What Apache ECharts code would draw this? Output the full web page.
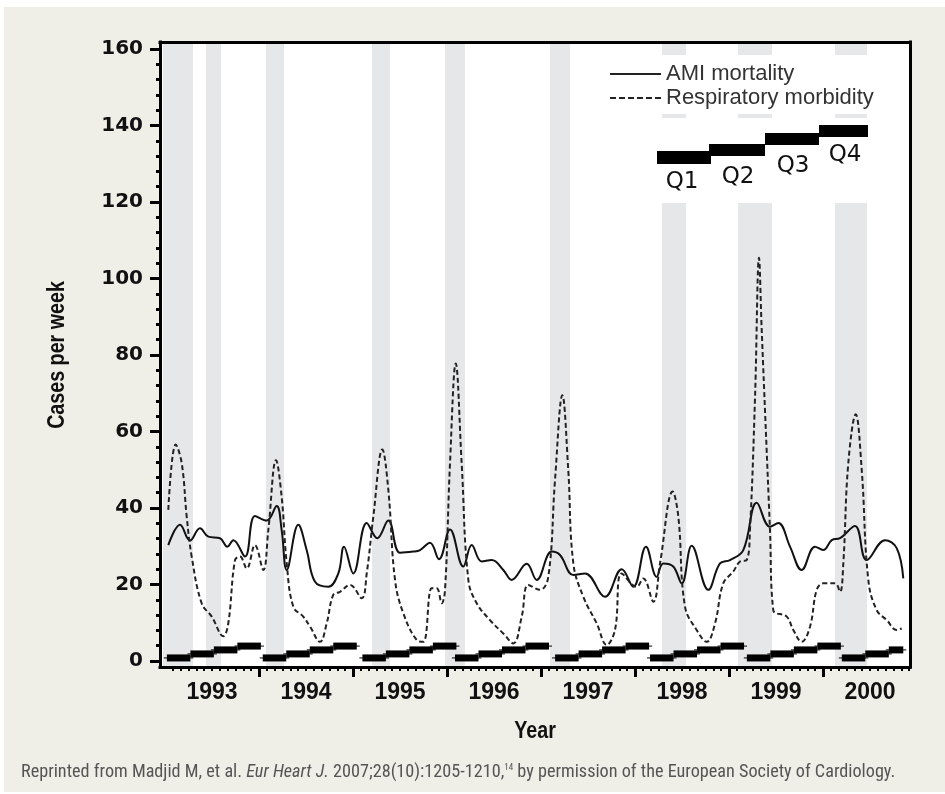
<!DOCTYPE html>
<html><head><meta charset="utf-8">
<script src="https://cdn.jsdelivr.net/npm/echarts@6/dist/echarts.min.js"></script>
<style>
html,body{margin:0;padding:0;background:#fff;}
#bg{position:absolute;left:4px;top:7px;width:941px;height:785px;background:#EFEEE7;}
#chart{position:absolute;left:0;top:0;width:945px;height:794px;}
</style></head><body>
<div id="bg"></div><div id="chart"></div>
<script>
// ---- data (x in decimal years) ----
const amiYears = [1993.035,1993.160,1993.266,1993.372,1993.461,1993.585,1993.663,1993.727,1993.851,1993.957,
  1994.082,1994.188,1994.241,1994.295,1994.418,1994.507,1994.596,1994.737,1994.844,1994.904,
  1995.003,1995.146,1995.259,1995.376,1995.500,1995.641,1995.713,1995.819,1995.915,
  1996.032,1996.173,1996.263,1996.369,1996.476,1996.599,1996.688,1996.848,1996.954,
  1997.114,1997.202,1997.344,1997.468,1997.681,1997.859,1997.982,
  1998.117,1998.231,1998.301,1998.407,1998.497,1998.603,1998.780,1998.904,
  1999.011,1999.152,1999.295,1999.436,1999.524,1999.649,1999.773,1999.915,
  2000.003,2000.093,2000.181,2000.340,2000.465,2000.660,2000.784,2000.854];
const amiValues = [30.3,35.6,31.5,34.7,32.5,32.1,29.9,31.6,27.3,37.9,
  36.7,40.5,34.2,23.8,35.6,29.0,20.7,19.4,22.9,29.9,
  22.9,36.1,32.1,36.7,28.3,28.6,29.0,30.9,26.6,
  34.4,24.7,30.3,26.0,26.4,23.8,21.2,25.4,21.2,
  28.6,27.7,22.5,22.9,16.8,24.0,19.4,
  29.9,22.0,25.5,24.7,20.3,30.1,18.6,25.5,
  26.4,29.0,41.4,35.1,36.1,29.9,23.8,29.9,
  29.0,31.6,32.1,35.3,26.4,31.6,29.5,21.6];
const respYears = [1993.035,1993.114,1993.178,1993.231,1993.284,1993.390,1993.497,1993.620,1993.673,1993.745,1993.798,1993.869,1993.957,
  1994.046,1994.099,1994.181,1994.241,1994.295,1994.365,1994.471,1994.543,1994.649,1994.720,1994.790,1994.862,1994.968,
  1995.093,1995.146,1995.216,1995.312,1995.376,1995.447,1995.535,1995.678,1995.748,1995.837,1995.890,1995.944,1995.979,
  1996.032,1996.093,1996.156,1996.227,1996.316,1996.457,1996.599,1996.705,1996.795,1996.865,1996.989,
  1997.078,1997.149,1997.227,1997.290,1997.344,1997.450,1997.593,1997.699,1997.787,1997.859,
  1998.018,1998.088,1998.195,1998.266,1998.401,1998.461,1998.532,1998.656,1998.763,1998.851,1998.939,
  1999.046,1999.117,1999.188,1999.223,1999.277,1999.319,1999.348,1999.436,1999.471,1999.614,1999.684,1999.773,1999.862,1999.933,
  2000.003,2000.128,2000.181,2000.216,2000.269,2000.348,2000.412,2000.482,2000.571,2000.678,2000.784,2000.837];
const respValues = [39.5,56.6,51.7,37.7,27.3,15.1,11.6,6.5,9.8,26.4,27.3,24.2,30.3,
  23.8,34.2,52.5,42.9,25.5,14.2,11.6,9.0,5.0,9.8,17.3,18.1,19.9,
  16.4,22.9,37.7,55.3,44.7,21.2,12.5,5.5,5.0,19.0,19.0,15.1,18.6,
  51.7,77.8,51.7,21.2,15.1,10.7,7.2,4.6,11.6,19.9,18.6,
  22.0,47.3,69.5,49.9,25.5,16.8,9.8,4.2,8.1,22.9,
  19.4,21.6,15.5,25.5,44.3,37.7,14.2,8.1,5.0,9.8,20.3,
  23.4,26.0,26.4,34.2,69.0,105.4,86.5,34.2,13.3,11.6,8.1,5.0,9.0,18.6,
  20.3,20.3,18.1,25.5,51.7,64.5,49.9,21.2,13.3,10.7,8.1,8.5];
const bandStarts = [1992.979,1993.436,1994.074,1995.202,1995.979,1997.096,1998.287,1999.096,2000.128];
const bandEnds   = [1993.298,1993.596,1994.266,1995.394,1996.191,1997.309,1998.543,1999.457,2000.468];
const stairStarts = [1993.02,1994.04,1995.10,1996.085,1997.15,1998.16,1999.19,2000.20];
const quarterLevels = [0.8,1.85,2.9,3.9];
const quarterNames = ['Q1','Q2','Q3','Q4'];
const yearTicks = [1994,1995,1996,1997,1998,1999,2000];
const yearLabels = [1993,1994,1995,1996,1997,1998,1999,2000];
const yTickValues = [0,20,40,60,80,100,120,140,160];
const seriesNames = ['AMI mortality','Respiratory morbidity'];
const xTitle = 'Year';
const yTitle = 'Cases per week';

// ---- derived ----
const X_MIN = 1992.9468, X_MAX = 2000.9255, Y_MIN = -1.569, Y_MAX = 161.83;
const QUARTER = 0.25;
const dataEnd = amiYears[amiYears.length-1];
const amiData = amiYears.map((x,i)=>[x,amiValues[i]]);
const respData = respYears.map((x,i)=>[x,respValues[i]]);
const stairData = [];
stairStarts.forEach(s=>quarterLevels.forEach((lv,q)=>{
  const x0 = s+q*QUARTER; let x1 = s+(q+1)*QUARTER;
  if (x0 >= dataEnd) return; if (x1 > dataEnd) x1 = dataEnd;
  stairData.push([x0,x1,lv]);
}));
const monthTicks = [];
for (let y=1993; y<=2000; y++) for (let m=1; m<12; m++) { const v=y+m/12; if (v<X_MAX) monthTicks.push(v); }
const yMinor = [];
for (let v=4; v<160; v+=4) if (v%20!==0) yMinor.push(v);

const SOLID_ICON = 'path://M0,0H51V2H0Z';
const DASH_ICON = 'path://M0,0h6v2h-6z M9,0h6v2h-6z M18,0h6v2h-6z M27,0h6v2h-6z M36,0h6v2h-6z M45,0h6v2h-6z';
const FRAME = {color:'#000', width:3, cap:'square'};
const TITLE_FONT = 'bold 24px "Liberation Sans", Arial, sans-serif';
const chart = echarts.init(document.getElementById('chart'), null, {renderer:'canvas'});
const option = {
  animation:false,
  backgroundColor:'transparent',
  grid:{left:160,right:35,top:42,bottom:127,show:true,backgroundColor:'#fff',borderWidth:0,outerBoundsMode:'none'},
  legend:{
    data:[{name:seriesNames[0],icon:SOLID_ICON},{name:seriesNames[1],icon:DASH_ICON}],
    orient:'vertical', left:610, top:63, padding:0, itemWidth:51, itemHeight:2, itemGap:2, z:6,
    itemStyle:{color:'#222',borderWidth:0},
    textStyle:{fontFamily:'Liberation Sans',fontSize:22,color:'#333'}, selectedMode:false
  },
  xAxis:[
    {type:'value',min:X_MIN,max:X_MAX,position:'bottom',z:10,
     axisLine:{show:true,onZero:false,lineStyle:FRAME},splitLine:{show:false},
     axisTick:{show:true,customValues:yearTicks,length:10,lineStyle:{color:'#000',width:3}},
     axisLabel:{customValues:yearLabels.map(y=>y+0.5),formatter:v=>String(Math.floor(v+1e-6)),margin:14,
       fontFamily:'Liberation Sans',fontWeight:'bold',fontSize:23,color:'#111'}},
    {type:'value',min:X_MIN,max:X_MAX,position:'bottom',z:10,
     axisLine:{show:false,onZero:false},splitLine:{show:false},axisLabel:{show:false},
     axisTick:{show:true,customValues:monthTicks,length:4,lineStyle:{color:'#000',width:2}}},
    {type:'value',min:X_MIN,max:X_MAX,position:'top',z:10,
     axisLine:{show:true,onZero:false,lineStyle:FRAME},splitLine:{show:false},axisLabel:{show:false},axisTick:{show:false}}
  ],
  yAxis:[
    {type:'value',min:Y_MIN,max:Y_MAX,position:'left',z:10,
     axisLine:{show:true,onZero:false,lineStyle:FRAME},splitLine:{show:false},
     axisTick:{show:true,customValues:yTickValues,length:10,lineStyle:{color:'#000',width:3}},
     axisLabel:{customValues:yTickValues,margin:17,fontFamily:'DejaVu Sans',fontWeight:'bold',fontSize:20,color:'#111'}},
    {type:'value',min:Y_MIN,max:Y_MAX,position:'left',z:10,
     axisLine:{show:false,onZero:false},splitLine:{show:false},axisLabel:{show:false},
     axisTick:{show:true,customValues:yMinor,length:4,lineStyle:{color:'#000',width:3}}},
    {type:'value',min:Y_MIN,max:Y_MAX,position:'right',z:10,
     axisLine:{show:true,onZero:false,lineStyle:FRAME},splitLine:{show:false},axisLabel:{show:false},axisTick:{show:false}}
  ],
  graphic:[
    {type:'rect',z:3,shape:{x:600,y:55,width:300,height:59},style:{fill:'#fff'},silent:true},
    {type:'rect',z:3,shape:{x:600,y:118,width:300,height:85},style:{fill:'#fff'},silent:true},
    {type:'rect',z:5,shape:{x:657,y:151,width:54,height:13},style:{fill:'#000'}},
    {type:'rect',z:5,shape:{x:709,y:144,width:56,height:12},style:{fill:'#000'}},
    {type:'rect',z:5,shape:{x:765,y:133,width:54,height:12},style:{fill:'#000'}},
    {type:'rect',z:5,shape:{x:819,y:125,width:49,height:12},style:{fill:'#000'}},
    ...quarterNames.map((q,i)=>({type:'text',z:5,x:[682,738,793,845][i],y:[182,177,166,155][i],
      style:{text:q,fontFamily:'DejaVu Sans',fontSize:23,fill:'#111',align:'center',verticalAlign:'middle'}})),
    // axis titles (condensed look)
    {type:'text',z:5,x:535,y:731,scaleX:0.82,
     style:{text:xTitle,font:TITLE_FONT,fill:'#111',align:'center',verticalAlign:'middle'}},
    {type:'text',z:5,x:57,y:355,rotation:Math.PI/2,scaleX:0.82,
     style:{text:yTitle,font:TITLE_FONT,fill:'#111',align:'center',verticalAlign:'middle'}},
    {type:'text',z:5,x:21,y:772,
     style:{text:'{n|Reprinted from Madjid M, et al. }{i|Eur Heart J.}{n| 2007;28(10):1205-1210,}{s|14}{n| by permission of the European Society of Cardiology.}',
       verticalAlign:'middle',fill:'#555',
       rich:{
         n:{fontFamily:'Liberation Sans Narrow, Roboto Condensed, Liberation Sans',fontSize:18.2,fill:'#555'},
         i:{fontFamily:'Liberation Sans Narrow, Roboto Condensed, Liberation Sans',fontSize:18.2,fontStyle:'italic',fill:'#555'},
         s:{fontFamily:'Liberation Sans Narrow, Roboto Condensed, Liberation Sans',fontSize:9,fill:'#555',verticalAlign:'top'}
       }}}
  ],
  series:[
    {name:seriesNames[0],type:'line',data:amiData,smooth:0.4,symbol:'none',z:6,
     lineStyle:{color:'#111',width:2},itemStyle:{color:'#111'},
     markArea:{silent:true,itemStyle:{color:'#E6E7E9'},
       data:bandStarts.map((s,i)=>[{xAxis:s},{xAxis:bandEnds[i]}])}},
    {name:seriesNames[1],type:'line',data:respData,smooth:0.4,symbol:'none',z:6,
     lineStyle:{color:'#222',width:2,type:[5,3]},itemStyle:{color:'#222'}},
    {name:'quarters',type:'custom',data:stairData,z:7,encode:{x:[0,1],y:2},
     renderItem:(params,api)=>{
       const p0 = api.coord([api.value(0),api.value(2)]);
       const p1 = api.coord([api.value(1),api.value(2)]);
       return {type:'group',children:[
         {type:'line',shape:{x1:p0[0]-3,y1:p0[1],x2:p1[0]+3,y2:p1[1]},style:{stroke:'#000',lineWidth:1}},
         {type:'rect',shape:{x:p0[0],y:p0[1]-3.5,width:p1[0]-p0[0],height:7},style:{fill:'#000'}}
       ]};
     }}
  ]
};
chart.setOption(option);
</script></body></html>
